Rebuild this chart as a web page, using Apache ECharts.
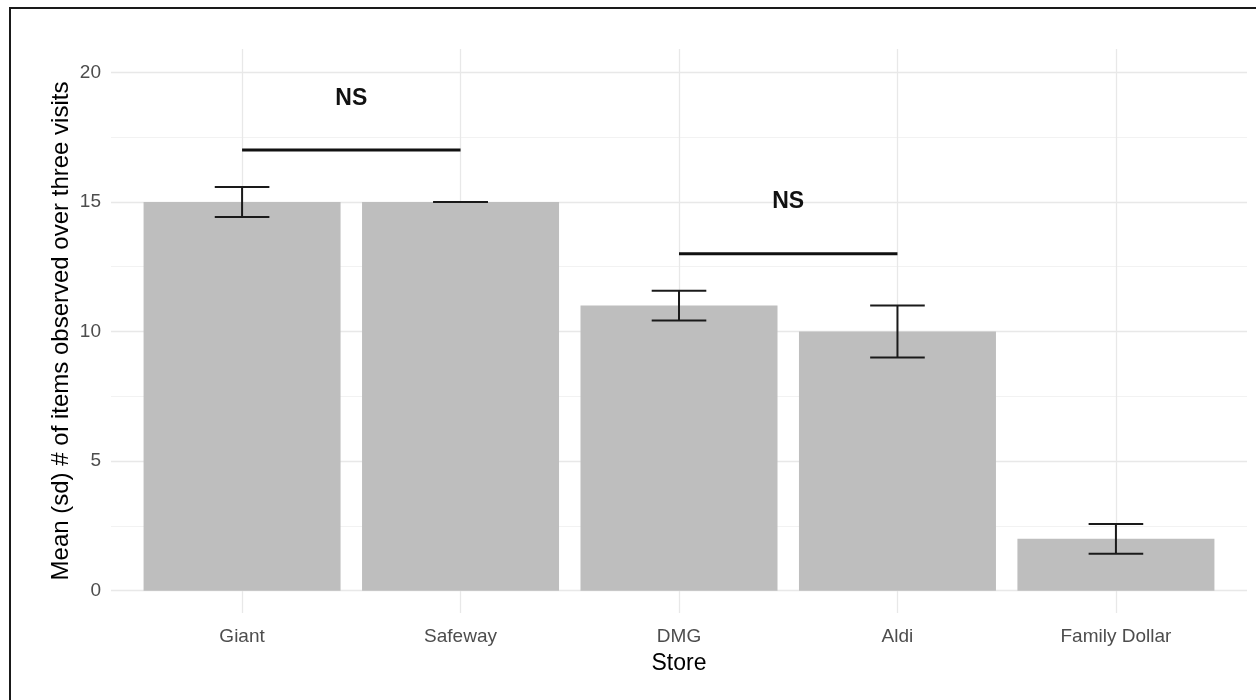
<!DOCTYPE html>
<html>
<head>
<meta charset="utf-8">
<script src="https://cdn.jsdelivr.net/npm/echarts@6/dist/echarts.min.js"></script>
<style>
  html, body { margin: 0; padding: 0; background: #fff; }
  #chart { width: 1256px; height: 700px; }
</style>
</head>
<body>
<div id="chart"></div>
<script>
// ---- data ----
const stores = ['Giant', 'Safeway', 'DMG', 'Aldi', 'Family Dollar'];
const means = [15, 15, 11, 10, 2];
const sds = [0.577, 0, 0.577, 1, 0.577];
const yMajorTicks = [0, 5, 10, 15, 20];
const yMinorTicks = [2.5, 7.5, 12.5, 17.5];
const bracketFrom = ['Giant', 'DMG'];
const bracketTo = ['Safeway', 'Aldi'];
const bracketHeights = [17, 13];
const bracketLabels = ['NS', 'NS'];
const bracketLabelHeights = [19, 15];

// ---- layout ----
const FONT = '"Liberation Sans", Arial, Helvetica, sans-serif';
const gridLeft = 111, gridRight = 9, gridTop = 49, gridBottom = 87;
const xMin = -0.6, xMax = stores.length - 1 + 0.6;
const yMin = -0.86, yMax = 20.9;
const plotW = 1256 - gridLeft - gridRight;
const unitPx = plotW / (xMax - xMin);

const barData = stores.map((s, i) => [i, means[i]]);
const errData = stores.map((s, i) => [i, means[i], sds[i]]);
const bracketData = bracketFrom.map((f, i) => [stores.indexOf(f), stores.indexOf(bracketTo[i]), bracketHeights[i], bracketLabelHeights[i], bracketLabels[i]]);

const gridLines = [];
yMinorTicks.forEach(v => gridLines.push({ yAxis: v, lineStyle: { color: '#efefef', width: 0.8, type: 'solid' } }));
yMajorTicks.forEach(v => gridLines.push({ yAxis: v, lineStyle: { color: '#e8e8e8', width: 1.3, type: 'solid' } }));
stores.forEach((s, i) => gridLines.push({ xAxis: i, lineStyle: { color: '#e8e8e8', width: 1.3, type: 'solid' } }));

const chart = echarts.init(document.getElementById('chart'), null, { renderer: 'canvas' });

const option = {
  animation: false,
  backgroundColor: '#ffffff',
  textStyle: { fontFamily: FONT },
  grid: { left: gridLeft, right: gridRight, top: gridTop, bottom: gridBottom, containLabel: false },
  xAxis: {
    type: 'value',
    min: xMin, max: xMax,
    name: 'Store',
    nameLocation: 'middle',
    nameGap: 39,
    nameTextStyle: { color: '#000', fontSize: 23, fontFamily: FONT },
    axisLine: { show: false },
    axisTick: { show: false },
    splitLine: { show: false },
    axisLabel: {
      customValues: stores.map((s, i) => i),
      formatter: v => stores[Math.round(v)] || '',
      color: '#4d4d4d', fontSize: 19, fontFamily: FONT, margin: 14
    }
  },
  yAxis: {
    type: 'value',
    min: yMin, max: yMax,
    name: 'Mean (sd) # of items observed over three visits',
    nameLocation: 'middle',
    nameRotate: 90,
    nameGap: 38,
    nameMoveOverlap: false,
    nameTextStyle: { color: '#000', fontSize: 24, fontFamily: FONT },
    axisLine: { show: false },
    axisTick: { show: false },
    splitLine: { show: false },
    axisLabel: {
      customValues: yMajorTicks,
      color: '#4d4d4d', fontSize: 19, fontFamily: FONT, margin: 10
    }
  },
  graphic: [{
    type: 'rect',
    shape: { x: 10, y: 8, width: 1400, height: 900 },
    style: { fill: 'none', stroke: '#1a1a1a', lineWidth: 2 },
    silent: true, z: 100
  }],
  series: [
    {
      type: 'line',
      data: [],
      silent: true,
      z: 1,
      markLine: {
        silent: true,
        z: 1,
        symbol: ['none', 'none'],
        label: { show: false },
        animation: false,
        data: gridLines
      }
    },
    {
      type: 'bar',
      data: barData,
      barWidth: Math.round(0.9 * unitPx),
      itemStyle: { color: '#bebebe' },
      z: 10,
      silent: true
    },
    {
      type: 'custom',
      data: errData,
      z: 11,
      silent: true,
      renderItem: (params, api) => {
        const x = api.value(0), m = api.value(1), s = api.value(2);
        const top = api.coord([x, m + s]);
        const bot = api.coord([x, m - s]);
        const l = api.coord([x - 0.125, m])[0];
        const r = api.coord([x + 0.125, m])[0];
        const st = { stroke: '#1a1a1a', lineWidth: 2 };
        return {
          type: 'group',
          children: [
            { type: 'line', shape: { x1: top[0], y1: top[1], x2: bot[0], y2: bot[1] }, style: st },
            { type: 'line', shape: { x1: l, y1: top[1], x2: r, y2: top[1] }, style: st },
            { type: 'line', shape: { x1: l, y1: bot[1], x2: r, y2: bot[1] }, style: st }
          ]
        };
      }
    },
    {
      type: 'custom',
      data: bracketData,
      z: 12,
      silent: true,
      renderItem: (params, api) => {
        const x1 = api.value(0), x2 = api.value(1), y = api.value(2), ly = api.value(3);
        const label = bracketData[params.dataIndex][4];
        const p1 = api.coord([x1, y]);
        const p2 = api.coord([x2, y]);
        const pt = api.coord([(x1 + x2) / 2, ly]);
        return {
          type: 'group',
          children: [
            { type: 'line', shape: { x1: p1[0], y1: p1[1], x2: p2[0], y2: p2[1] }, style: { stroke: '#111', lineWidth: 3 } },
            { type: 'text', style: { text: label, x: pt[0], y: pt[1], align: 'center', verticalAlign: 'middle', fontSize: 23, fontWeight: 'bold', fontFamily: FONT, fill: '#111' } }
          ]
        };
      }
    }
  ]
};
chart.setOption(option);
</script>
</body>
</html>
